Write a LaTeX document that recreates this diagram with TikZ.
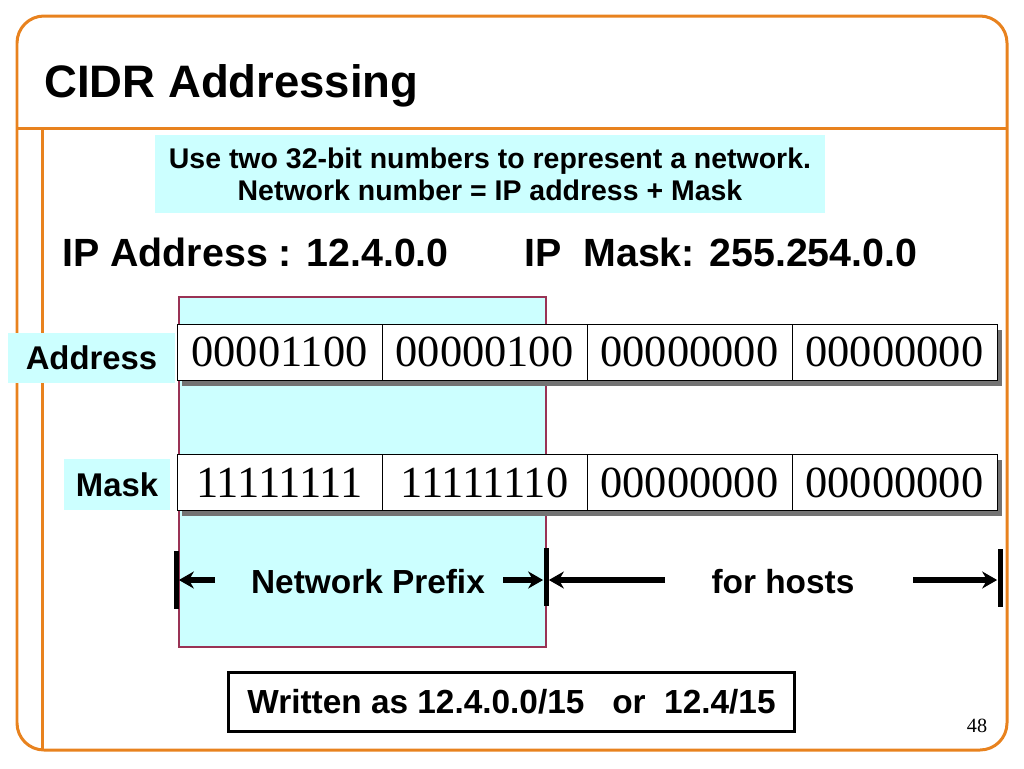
\documentclass[tikz,border=0pt]{standalone}
\usepackage{fontspec}
\setmainfont{Liberation Serif}
\setsansfont{Liberation Sans}
\usetikzlibrary{arrows.meta,positioning,shadows}
\definecolor{cFRM}{HTML}{E8821E}
\definecolor{cCYN}{HTML}{CCFFFF}
\definecolor{cPRE}{HTML}{993355}

\begin{document}
\begin{tikzpicture}[x=0.02cm, y=-0.02cm, >=Stealth,
  frm/.style={draw=cFRM, line width=0.06cm},
  lbl/.style={fill=cCYN, inner sep=0pt, font=\sffamily\bfseries\fontsize{18.7}{22}\selectfont},
  cell/.style={draw, fill=white, inner sep=0pt, outer sep=0pt, minimum width=4.1cm, minimum height=1.12cm,
    font=\fontsize{25.3}{28}\selectfont,
    drop shadow={shadow xshift=0.1cm, shadow yshift=-0.11cm, fill=black!55, opacity=1}},
  bar/.style={fill=black, inner sep=0pt, minimum width=0.1cm, minimum height=1.16cm},
  arr/.style={line width=0.11cm, -{Stealth[length=0.3cm, width=0.34cm]}},
  txt/.style={anchor=base, inner sep=0pt, font=\sffamily\bfseries\fontsize{19}{22}\selectfont}]
\useasboundingbox (0,0) rectangle (1024,768);

% slide frame
\draw[frm, rounded corners=0.54cm] (17,16) rectangle (1007,750);
\draw[frm] (17,128) -- (1007,128);
\draw[frm] (42,128) -- (42,750);

\node[anchor=base west, inner sep=0pt, font=\sffamily\bfseries\fontsize{25.9}{30}\selectfont] (title) at (44,97) {CIDR Addressing};

\node[fill=cCYN, minimum width=13.4cm, minimum height=1.56cm, inner sep=0pt, align=center,
  font=\sffamily\bfseries\fontsize{16.2}{18.1}\selectfont] (note) at (490,174)
  {Use two 32-bit numbers to represent a network.\\ Network number = IP address + Mask};

\node[anchor=base west, inner sep=0pt, font=\sffamily\bfseries\fontsize{22.4}{26}\selectfont] (ipa) at (62,266) {IP Address : 12.4.0.0};
\node[anchor=base west, inner sep=0pt, font=\sffamily\bfseries\fontsize{22.4}{26}\selectfont] (ipm) at (524,266) {IP~~Mask: 255.254.0.0};

% network part
\draw[draw=cPRE, fill=cCYN, line width=0.6pt] (179,297) rectangle (546,647);

\node[lbl, minimum width=3.34cm, minimum height=1cm] (addr) at (91.5,358) {Address};
\node[lbl, minimum width=2.12cm, minimum height=1.02cm] (mask) at (117,484.5) {Mask};

\node[cell] (a1) at (279.5,352) {00001100};
\node[cell, right=0pt of a1] (a2) {00000100};
\node[cell, right=0pt of a2] (a3) {00000000};
\node[cell, right=0pt of a3] (a4) {00000000};

\node[cell] (m1) at (279.5,482.5) {11111111};
\node[cell, right=0pt of m1] (m2) {11111110};
\node[cell, right=0pt of m2] (m3) {00000000};
\node[cell, right=0pt of m3] (m4) {00000000};

% prefix / hosts
\node[bar] (bL) at (176,580) {};
\node[bar] (bM) at (546,577) {};
\node[bar] (bR) at (1000,578) {};
\node[txt] (pfx) at (368,593) {Network Prefix};
\node[txt] (hst) at (783,593) {for hosts};
\coordinate (pL) at (215,580);
\coordinate (pR) at (503,580);
\coordinate (hL) at (665,580);
\coordinate (hR) at (913,580);
\draw[arr] (pL) -- (bL.east |- pL);
\draw[arr] (pR) -- (bM.west |- pR);
\draw[arr] (hL) -- (bM.east |- hL);
\draw[arr] (hR) -- (bR.west |- hR);

\node[draw, line width=0.06cm, minimum width=11.34cm, minimum height=1.18cm, inner sep=0pt,
  font=\sffamily\bfseries\fontsize{19}{22}\selectfont] (wr) at (511.5,701.5) {Written as 12.4.0.0/15~~~or~~12.4/15};

\node[inner sep=0pt, font=\fontsize{11.5}{12}\selectfont] (pg) at (977,726) {48};
\end{tikzpicture}
\end{document}
